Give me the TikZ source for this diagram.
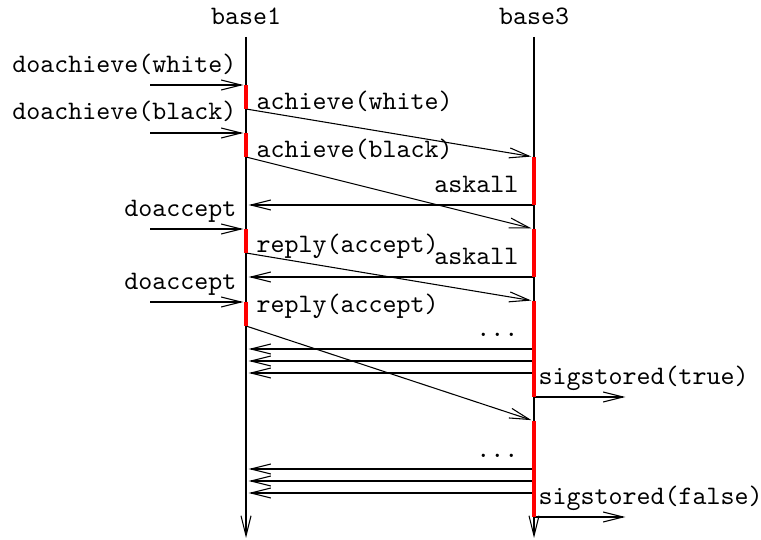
\documentclass[tikz,border=0pt]{standalone}
\usepackage{tikz}
\usetikzlibrary{arrows.meta}

\tikzset{
  msg/.style={->, shorten >=1pt},
  life/.style={->},
  act/.style={red, line width=1.6pt},
  lbl/.style={inner sep=0pt, font=\ttfamily},
}

\begin{document}
\begin{tikzpicture}[x=0.375pt, y=-0.375pt, >={Straight Barb[length=7.5pt,width=3.75pt]}]
\useasboundingbox (0,0) rectangle (761,540);

% lifelines
\node[lbl, anchor=base] (base1) at (246,25) {base1};
\node[lbl, anchor=base] (base3) at (534,25) {base3};
\coordinate (b1top) at (246,37);
\coordinate (b1bot) at (246,538);
\coordinate (b3top) at (534,37);
\coordinate (b3bot) at (534,538);
\draw[life] (b1top) -- (b1bot);
\draw[life] (b3top) -- (b3bot);

% activations of base1
\coordinate (p1) at (246,85);
\coordinate (q1) at (246,109);
\coordinate (p2) at (246,133);
\coordinate (q2) at (246,157);
\coordinate (p3) at (246,229);
\coordinate (q3) at (246,253);
\coordinate (p4) at (246,302);
\coordinate (q4) at (246,326);

% activations of base3
\coordinate (u1) at (534,157);
\coordinate (v1) at (534,205);
\coordinate (u2) at (534,229);
\coordinate (v2) at (534,277);
\coordinate (u3) at (534,301);
\coordinate (v3) at (534,397);
\coordinate (u4) at (534,421);
\coordinate (v4) at (534,517);

% incoming requests
\coordinate (i1) at (150,85);
\coordinate (i2) at (150,133);
\coordinate (i3) at (150,229);
\coordinate (i4) at (150,302);
\node[lbl, anchor=base east] (doachw) at (237,73) {doachieve(white)};
\node[lbl, anchor=base east] (doachb) at (237,120) {doachieve(black)};
\node[lbl, anchor=base east] (doacc1) at (237,217) {doaccept};
\node[lbl, anchor=base east] (doacc2) at (237,290) {doaccept};
\draw[msg] (i1) -- (p1);
\draw[msg] (i2) -- (p2);
\draw[msg] (i3) -- (p3);
\draw[msg] (i4) -- (p4);

% base1 to base3
\node[lbl, anchor=base west] (achw) at (256,110) {achieve(white)};
\node[lbl, anchor=base west] (achb) at (256,158) {achieve(black)};
\node[lbl, anchor=base west] (rep1) at (256,253) {reply(accept)};
\node[lbl, anchor=base west] (rep2) at (256,313) {reply(accept)};
\draw[msg] (q1) -- (u1);
\draw[msg] (q2) -- (u2);
\draw[msg] (q3) -- (u3);
\draw[msg] (q4) -- (u4);

% base3 to base1
\node[lbl, anchor=base east] (ask1) at (519,193) {askall};
\node[lbl, anchor=base east] (ask2) at (519,265) {askall};
\draw[msg] (v1) -- (v1 -| base1);
\draw[msg] (v2) -- (v2 -| base1);

\node[lbl, anchor=base east] (dots1) at (519,337) {...};
\coordinate (r1) at (534,349);
\coordinate (r2) at (534,361);
\coordinate (r3) at (534,373);
\draw[msg] (r1) -- (r1 -| base1);
\draw[msg] (r2) -- (r2 -| base1);
\draw[msg] (r3) -- (r3 -| base1);

\node[lbl, anchor=base east] (dots2) at (519,458) {...};
\coordinate (r4) at (534,469);
\coordinate (r5) at (534,481);
\coordinate (r6) at (534,493);
\draw[msg] (r4) -- (r4 -| base1);
\draw[msg] (r5) -- (r5 -| base1);
\draw[msg] (r6) -- (r6 -| base1);

% outgoing signals
\node[lbl, anchor=base west] (sigt) at (538,385) {sigstored(true)};
\node[lbl, anchor=base west] (sigf) at (538,505) {sigstored(false)};
\coordinate (o1) at (628,397);
\coordinate (o2) at (628,517);
\draw[msg] (v3) -- (o1);
\draw[msg] (v4) -- (o2);

% bars on top
\draw[act] (p1) -- (q1);
\draw[act] (p2) -- (q2);
\draw[act] (p3) -- (q3);
\draw[act] (p4) -- (q4);
\draw[act] (u1) -- (v1);
\draw[act] (u2) -- (v2);
\draw[act] (u3) -- (v3);
\draw[act] (u4) -- (v4);
\end{tikzpicture}
\end{document}
